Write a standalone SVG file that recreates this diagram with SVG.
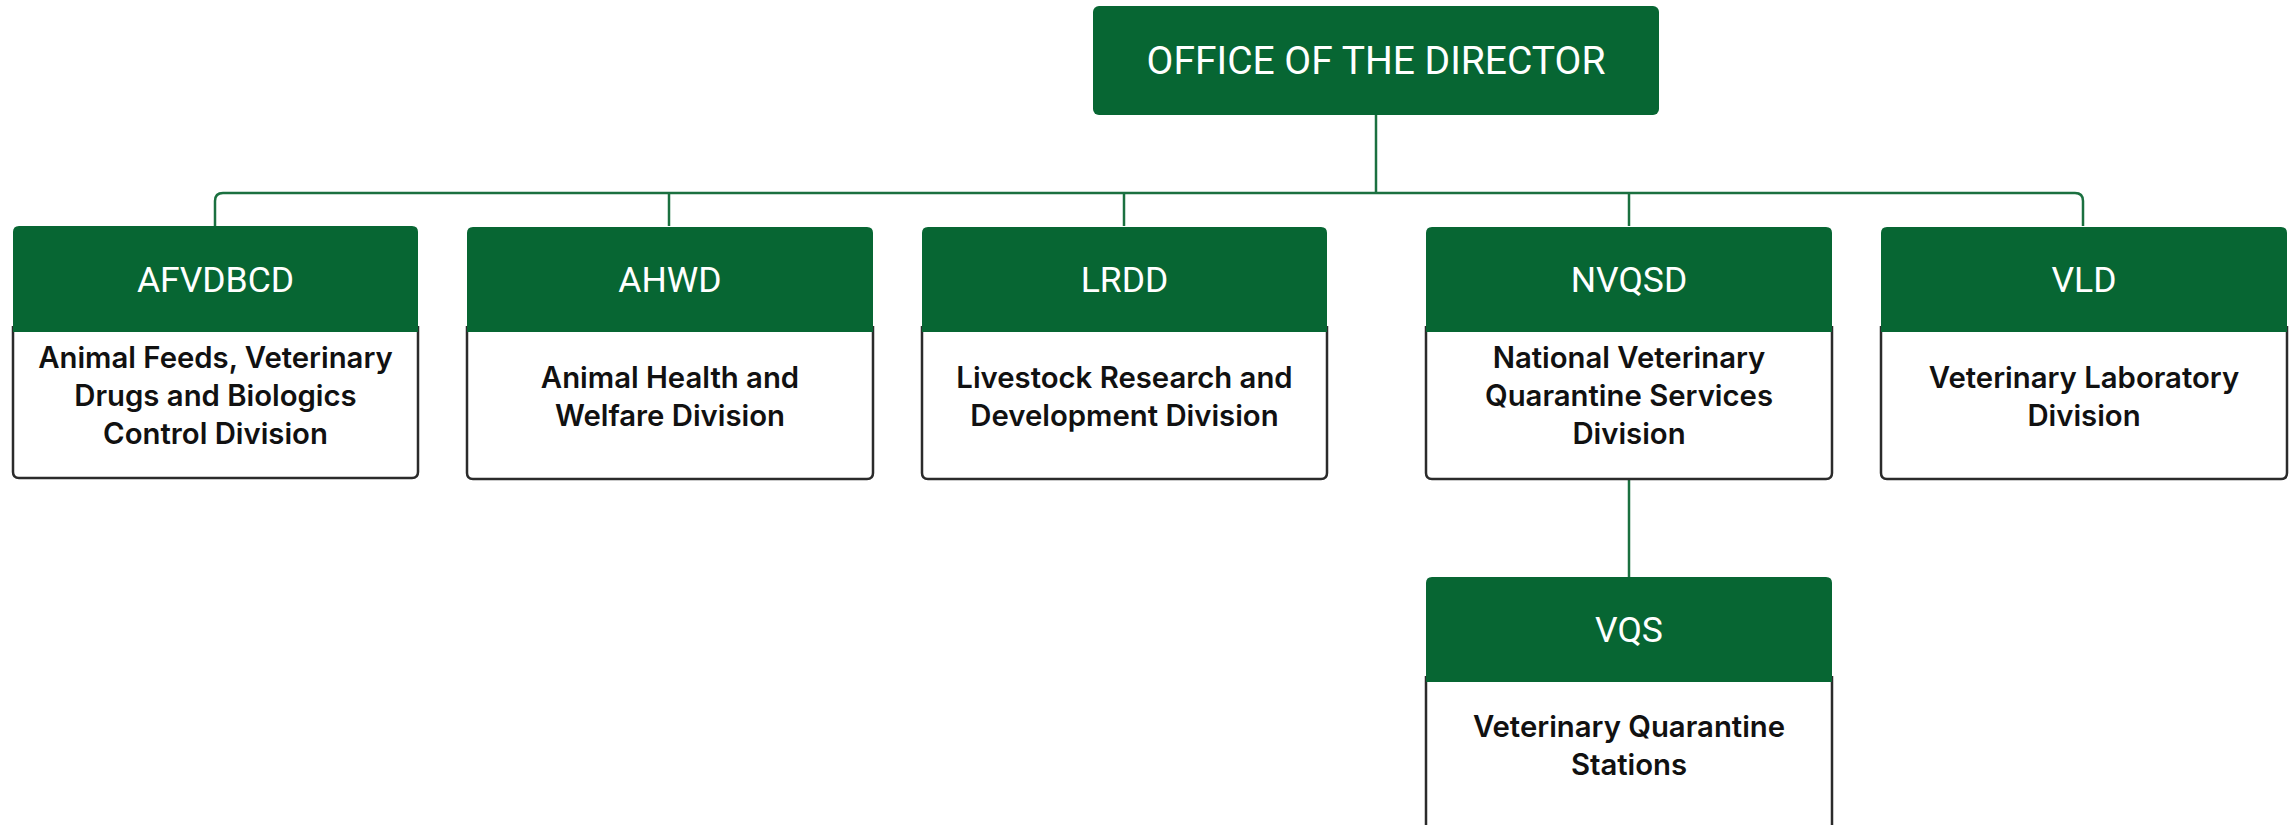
<svg xmlns="http://www.w3.org/2000/svg" width="2293" height="825" viewBox="0 0 2293 825">
<style>
.hdr{fill:#076633}
.body{fill:#fff;stroke:#2b2b2b;stroke-width:2.5}
.conn{fill:none;stroke:#1b7040;stroke-width:2.5}
.ht{font-family:Roboto,"Liberation Sans",sans-serif;font-size:35.5px;fill:#fff;text-anchor:middle}
.bt{font-family:Inter,"Liberation Sans",sans-serif;font-weight:600;font-size:29.3px;fill:#111;text-anchor:middle}
</style>
<rect width="2293" height="825" fill="#fff"/>
<g id="connectors">
<path class="conn" d="M1376 115 V193"/>
<path class="conn" d="M215 226 V201 Q215 193 223 193 H2075 Q2083 193 2083 201 V226"/>
<path class="conn" d="M669 193 V226"/>
<path class="conn" d="M1124 193 V226"/>
<path class="conn" d="M1629 193 V226"/>
<path class="conn" d="M1629 479 V577"/>
</g>
<g id="director">
<rect class="hdr" x="1093" y="6" width="566" height="109" rx="6"/>
<text class="ht" x="1376" y="74" style="font-size:39px">OFFICE OF THE DIRECTOR</text>
</g>
<g id="afvdbcd">
<path class="body" d="M13 326 V472 Q13 478 19 478 H412 Q418 478 418 472 V326"/>
<path class="hdr" d="M13 332 V232 Q13 226 19 226 H412 Q418 226 418 232 V332 Z"/>
<text class="ht" x="215.5" y="292">AFVDBCD</text>
<text class="bt" x="215.5" y="368">Animal Feeds, Veterinary</text>
<text class="bt" x="215.5" y="406">Drugs and Biologics</text>
<text class="bt" x="215.5" y="444">Control Division</text>
</g>
<g id="ahwd">
<path class="body" d="M467 326 V473 Q467 479 473 479 H867 Q873 479 873 473 V326"/>
<path class="hdr" d="M467 332 V233 Q467 227 473 227 H867 Q873 227 873 233 V332 Z"/>
<text class="ht" x="670" y="292">AHWD</text>
<text class="bt" x="670" y="388">Animal Health and</text>
<text class="bt" x="670" y="426">Welfare Division</text>
</g>
<g id="lrdd">
<path class="body" d="M922 326 V473 Q922 479 928 479 H1321 Q1327 479 1327 473 V326"/>
<path class="hdr" d="M922 332 V233 Q922 227 928 227 H1321 Q1327 227 1327 233 V332 Z"/>
<text class="ht" x="1124.5" y="292">LRDD</text>
<text class="bt" x="1124.5" y="388">Livestock Research and</text>
<text class="bt" x="1124.5" y="426">Development Division</text>
</g>
<g id="nvqsd">
<path class="body" d="M1426 326 V473 Q1426 479 1432 479 H1826 Q1832 479 1832 473 V326"/>
<path class="hdr" d="M1426 332 V233 Q1426 227 1432 227 H1826 Q1832 227 1832 233 V332 Z"/>
<text class="ht" x="1629" y="292">NVQSD</text>
<text class="bt" x="1629" y="368">National Veterinary</text>
<text class="bt" x="1629" y="406">Quarantine Services</text>
<text class="bt" x="1629" y="444">Division</text>
</g>
<g id="vld">
<path class="body" d="M1881 326 V473 Q1881 479 1887 479 H2281 Q2287 479 2287 473 V326"/>
<path class="hdr" d="M1881 332 V233 Q1881 227 1887 227 H2281 Q2287 227 2287 233 V332 Z"/>
<text class="ht" x="2084" y="292">VLD</text>
<text class="bt" x="2084" y="388">Veterinary Laboratory</text>
<text class="bt" x="2084" y="426">Division</text>
</g>
<g id="vqs">
<path class="body" d="M1426 676 V830 M1832 830 V676"/>
<path class="hdr" d="M1426 682 V583 Q1426 577 1432 577 H1826 Q1832 577 1832 583 V682 Z"/>
<text class="ht" x="1629" y="642">VQS</text>
<text class="bt" x="1629" y="737">Veterinary Quarantine</text>
<text class="bt" x="1629" y="775">Stations</text>
</g>
</svg>
